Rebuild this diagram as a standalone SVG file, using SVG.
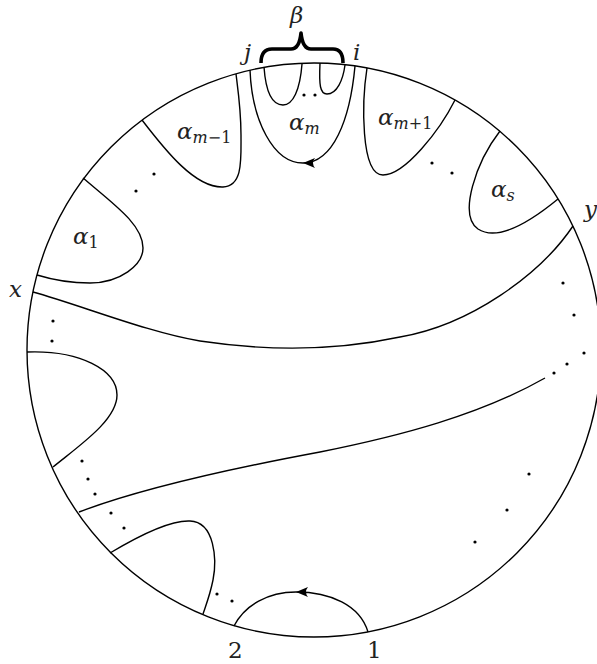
<svg xmlns="http://www.w3.org/2000/svg" width="597" height="664" viewBox="0 0 597 664">
<style>
.ln{fill:none;stroke:#000;stroke-width:1.4}
.br{fill:none;stroke:#000;stroke-width:3.6;stroke-linejoin:round}
.dt{fill:#000}
.arr{marker-mid:url(#ah)}
.lb{font-family:"DejaVu Serif","Liberation Serif",serif;font-size:23px;fill:#222;font-style:italic}
.up{font-style:normal}
.sb{font-size:16px}
</style>
<defs>
<marker id="ah" markerUnits="userSpaceOnUse" markerWidth="16" markerHeight="12" viewBox="-14 -6 16 12" refX="0" refY="0" orient="auto">
<path d="M0,0 L-12,-5 Q-8,0 -12,5 Z" fill="#000"/>
</marker>
</defs>
<rect width="597" height="664" fill="#fff"/>
<g id="disk"><circle class="ln" cx="314" cy="350" r="287"/></g>
<g id="connectors">
<path id="alpha1" class="ln" d="M83,178 C115,205 143,225 143,248 C143,265 120,283 90,283 C68,283 50,279 37,275"/>
<path id="alpha_m-1" class="ln" d="M142,120 C165,150 195,188 223,187 C243,186 241,160 241,135 C241,110 238,90 236,74"/>
<path id="alpha_m" class="ln arr" d="M355,66 C350,120 333,163 303,163 C273,163 252,120 250,70"/>
<path id="beta1" class="ln" d="M264,67 C266,95 274,105 283,105 C293,105 300,90 302,64"/>
<path id="beta2" class="ln" d="M320,63 C319,85 320,94 327,94 C337,94 343,80 345,65"/>
<path id="alpha_m+1" class="ln" d="M367,68 C362,100 360,175 383,175 C405,175 440,130 455,100"/>
<path id="alpha_s" class="ln" d="M500,131 C476,162 458,215 478,229 C498,242 530,222 558,199"/>
<path id="strand_xy" class="ln" d="M573,226 C540,275 470,325 400,337 C330,352 260,350 200,341 C150,333 80,305 33,292"/>
<path id="loop_left" class="ln" d="M27,352 C80,350 117,370 117,395 C117,420 80,445 53,467"/>
<path id="strand_low" class="ln" d="M79,512 C150,485 250,465 320,452 C400,436 480,415 545,378"/>
<path id="loop_bottom" class="ln" d="M110,553 C140,535 170,520 190,521 C215,522 217,560 213,580 C210,595 206,605 203,614"/>
<path id="arc12" class="ln arr" d="M368,632 C360,605 330,592 296,592 C268,592 245,605 234,626"/>
<path id="brace" class="br" d="M261,63 C261,54 264,49 272,49 L291,49 C297,49 300,43 301,33 C302,43 305,49 311,49 L333,49 C340,49 343,54 343,63"/>
</g>
<g id="dots" class="dt">
<circle cx="154" cy="174" r="1.6"/><circle cx="136" cy="191" r="1.6"/>
<circle cx="304" cy="95" r="1.6"/><circle cx="315" cy="95" r="1.6"/>
<circle cx="432" cy="163" r="1.6"/><circle cx="452" cy="173" r="1.6"/>
<circle cx="53" cy="321" r="1.6"/><circle cx="52" cy="341" r="1.6"/>
<circle cx="82" cy="461" r="1.6"/><circle cx="88" cy="479" r="1.6"/><circle cx="95" cy="494" r="1.6"/><circle cx="111" cy="513" r="1.6"/><circle cx="124" cy="528" r="1.6"/>
<circle cx="217" cy="594" r="1.6"/><circle cx="232" cy="601" r="1.6"/>
<circle cx="563" cy="283" r="1.6"/><circle cx="574" cy="315" r="1.6"/>
<circle cx="554" cy="373" r="1.6"/><circle cx="567" cy="364" r="1.6"/><circle cx="584" cy="353" r="1.6"/>
<circle cx="529" cy="474" r="1.6"/><circle cx="507" cy="510" r="1.6"/><circle cx="475" cy="542" r="1.6"/>
</g>
<g id="labels">
<text class="lb" x="290" y="23">β</text>
<text class="lb" x="244" y="60">j</text>
<text class="lb" x="353" y="60">i</text>
<text class="lb" x="177" y="139">α<tspan class="sb" dy="4">m</tspan><tspan class="sb up">−1</tspan></text>
<text class="lb" x="289" y="130">α<tspan class="sb" dy="4">m</tspan></text>
<text class="lb" x="378" y="125">α<tspan class="sb" dy="4">m</tspan><tspan class="sb up">+1</tspan></text>
<text class="lb" x="491" y="197">α<tspan class="sb" dy="4">s</tspan></text>
<text class="lb" x="73" y="244">α<tspan class="sb up" dy="4">1</tspan></text>
<text class="lb" x="9" y="297">x</text>
<text class="lb" x="584" y="217">y</text>
<text class="lb up" x="228" y="658">2</text>
<text class="lb up" x="367" y="658">1</text>
</g>
</svg>
